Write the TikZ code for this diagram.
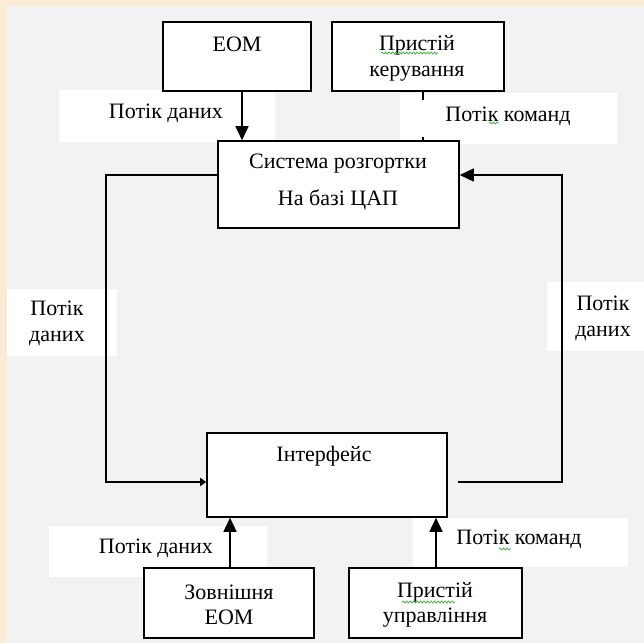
\documentclass[tikz,border=0pt]{standalone}
\usepackage{fontspec}
\setmainfont{Liberation Serif}
\usetikzlibrary{arrows.meta,decorations.pathmorphing}
\definecolor{frame}{RGB}{248,236,212}
\definecolor{panel}{RGB}{242,242,242}
\definecolor{spell}{RGB}{60,170,60}
\begin{document}
\begin{tikzpicture}[x=1pt,y=-1pt,
  box/.style={draw=black,line width=1.6pt,fill=white,rectangle,inner sep=0pt},
  txt/.style={inner sep=0pt,align=center,font=\fontsize{22}{26}\selectfont},
  backdrop/.style={fill=white},
  flow/.style={line width=1.6pt},
  tip/.style={-{Triangle[length=14pt,width=13pt]}},
  smalltip/.style={-{Triangle[length=6pt,width=8pt]}},
  squiggle/.style={spell,line width=0.7pt,decorate,
    decoration={snake,amplitude=1pt,segment length=3.5pt}}]

\useasboundingbox (0,0) rectangle (644,643);
\fill[frame] (0,0) rectangle (644,643);
\fill[panel] (7,6) rectangle (644,643);

% white backdrops behind the flow labels
\fill[backdrop] (59,90) rectangle (275,142);
\fill[backdrop] (400,93) rectangle (617,144);
\fill[backdrop] (7,289) rectangle (117,356);
\fill[backdrop] (547,282) rectangle (644,351);
\fill[backdrop] (49,526) rectangle (267,577);
\fill[backdrop] (413,518) rectangle (628,567);

% blocks
\node[box,minimum width=148pt,minimum height=69pt] (eom)  at (237,56.5)  {};
\node[box,minimum width=172pt,minimum height=69pt] (pk)   at (418,56.5)  {};
\node[box,minimum width=241pt,minimum height=87pt] (sys)  at (338.5,184.5) {};
\node[box,minimum width=240pt,minimum height=84pt] (intf) at (327,475)   {};
\node[box,minimum width=170pt,minimum height=70pt] (ext)  at (229,603)   {};
\node[box,minimum width=173pt,minimum height=70pt] (pu)   at (435.5,603) {};

\node[txt] (eomT)  at (237,44)    {ЕОМ};
\node[txt] (pkT)   at (417,58)    {Пристій\\керування};
\node[txt] (sysT)  at (338,182.5) {Система розгортки\\[11pt]На базі ЦАП};
\node[txt] (intfT) at (324,456)   {Інтерфейс};
\node[txt] (extT)  at (229,605)   {Зовнішня\\[-1pt]ЕОМ};
\node[txt] (puT)   at (435,605)   {Пристій\\[-1pt]управління};

% connectors
\coordinate (rstart) at (458,482);
\draw[flow,tip] (242,0 |- eom.south) -- (242,0 |- sys.north);
\draw[flow] (423,0 |- pk.south) -- (423,0 |- sys.north);
\draw[flow,smalltip] (sys.west |- 0,175) -- (106,175) -- (106,482) -- (intf.west |- 0,482);
\draw[flow,tip] (rstart) -- (562,482) -- (562,175) -- (sys.east |- 0,175);
\draw[flow,tip] (230,0 |- ext.north) -- (230,0 |- intf.south);
\draw[flow,tip] (436,0 |- pu.north) -- (436,0 |- intf.south);

% flow labels
\fill[white] (402,100) rectangle (615,137);
\node[txt] (l1) at (166,113)  {Потік даних};
\node[txt] (l2) at (508,116)  {Потік команд};
\node[txt] (l3) at (57,323.5) {Потік\\даних};
\node[txt] (l4) at (603,318)  {Потік\\даних};
\node[txt] (l5) at (156,548)  {Потік даних};
\node[txt] (l6) at (519,539)  {Потік команд};

% spell-check marks
\draw[squiggle] (381,53) -- (438,53);
\draw[squiggle] (489,123) -- (499,123);
\draw[squiggle] (402,602) -- (455,602);
\draw[squiggle] (499,549) -- (511,549);
\end{tikzpicture}
\end{document}
